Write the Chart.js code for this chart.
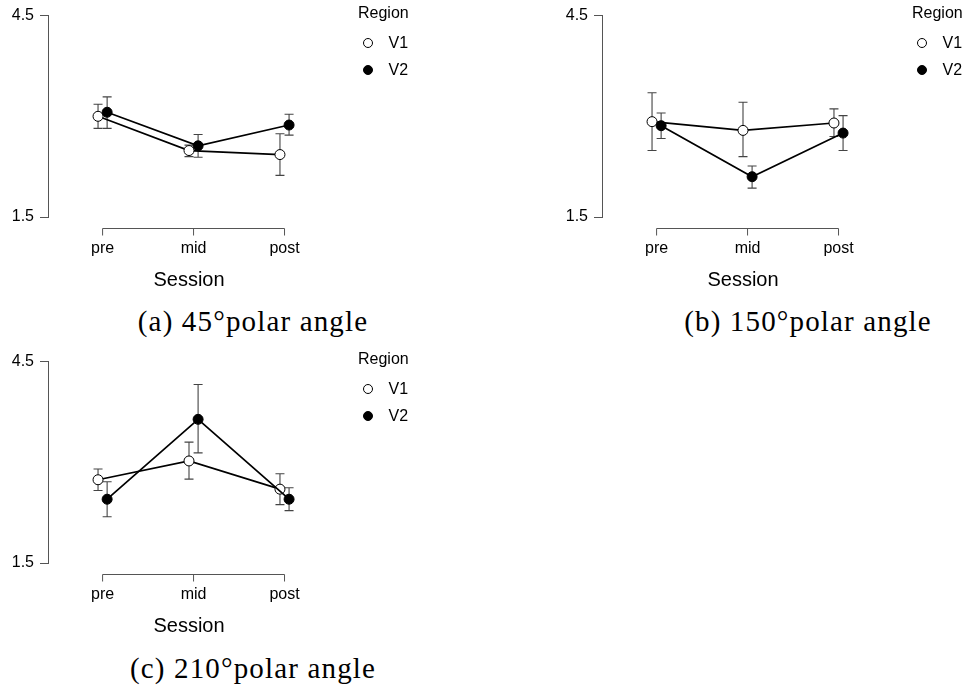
<!DOCTYPE html>
<html><head><meta charset="utf-8">
<script src="https://cdn.jsdelivr.net/npm/chart.js@4.4.1/dist/chart.umd.min.js"></script>
<style>
html,body{margin:0;padding:0;background:#fff;}
body{width:972px;height:694px;overflow:hidden;position:relative;}
.panel{position:absolute;width:430px;height:300px;}
.cap{position:absolute;font-family:"Liberation Serif","Times New Roman",serif;font-size:29px;line-height:28px;letter-spacing:1.15px;color:#000;white-space:nowrap;transform:translateX(-50%);}
</style></head><body>
<div class="panel" style="left:0px;top:0px"><canvas id="pa" width="430" height="300"></canvas></div>
<div class="panel" style="left:554px;top:0px"><canvas id="pb" width="430" height="300"></canvas></div>
<div class="panel" style="left:0px;top:346px"><canvas id="pc" width="430" height="300"></canvas></div>
<div class="cap" style="left:253px;top:307px">(a) 45°polar angle</div>
<div class="cap" style="left:808px;top:307px">(b) 150°polar angle</div>
<div class="cap" style="left:253px;top:654px">(c) 210°polar angle</div>
<script>
// ---- data ----
const sessions = ['pre', 'mid', 'post'];
const seriesNames = ['V1', 'V2'];
const yTickValues = [1.5, 4.5];
const legendTitle = 'Region';
const xTitle = 'Session';

// (a) 45° polar angle
const a_V1 = [3.00, 2.49, 2.43];
const a_V1_lo = [2.82, 2.40, 2.12];
const a_V1_hi = [3.18, 2.57, 2.74];
const a_V2 = [3.06, 2.56, 2.87];
const a_V2_lo = [2.82, 2.39, 2.72];
const a_V2_hi = [3.29, 2.73, 3.03];

// (b) 150° polar angle
const b_V1 = [2.92, 2.79, 2.90];
const b_V1_lo = [2.49, 2.40, 2.70];
const b_V1_hi = [3.35, 3.21, 3.11];
const b_V2 = [2.86, 2.10, 2.75];
const b_V2_lo = [2.67, 1.93, 2.49];
const b_V2_hi = [3.05, 2.26, 3.01];

// (c) 210° polar angle
const c_V1 = [2.74, 3.02, 2.60];
const c_V1_lo = [2.58, 2.75, 2.37];
const c_V1_hi = [2.90, 3.30, 2.83];
const c_V2 = [2.45, 3.64, 2.45];
const c_V2_lo = [2.19, 3.14, 2.28];
const c_V2_hi = [2.71, 4.16, 2.62];

// ---- styling / layout constants ----
Chart.defaults.font.family = '"Liberation Sans", Arial, sans-serif';
Chart.defaults.color = '#000';
const DODGE = 0.05;
const AXIS_COLOR = '#555';
const POINT_R = 5;

const errorBarPlugin = {
  id: 'errorBars',
  beforeDatasetsDraw(chart) {
    const {ctx, scales: {x, y}} = chart;
    ctx.save();
    ctx.strokeStyle = '#444';
    ctx.lineWidth = 1.1;
    chart.data.datasets.forEach(ds => {
      ds.data.forEach((p, i) => {
        const px = x.getPixelForValue(p.x);
        const top = y.getPixelForValue(ds.errHi[i]);
        const bot = y.getPixelForValue(ds.errLo[i]);
        const cw = 4.5;
        ctx.beginPath();
        ctx.moveTo(px, top); ctx.lineTo(px, bot);
        ctx.moveTo(px - cw, top); ctx.lineTo(px + cw, top);
        ctx.moveTo(px - cw, bot); ctx.lineTo(px + cw, bot);
        ctx.stroke();
      });
    });
    ctx.restore();
  }
};

const xAxisPlugin = {
  id: 'xAxisLine',
  afterDraw(chart) {
    const {ctx, chartArea, scales: {x}} = chart;
    const yLine = Math.round(chartArea.bottom + 11) + 0.5;
    const x0 = x.getPixelForValue(1), x1 = x.getPixelForValue(sessions.length);
    ctx.save();
    ctx.strokeStyle = AXIS_COLOR;
    ctx.lineWidth = 1;
    ctx.beginPath();
    ctx.moveTo(x0, yLine); ctx.lineTo(x1, yLine);
    sessions.forEach((s, i) => {
      const px = x.getPixelForValue(i + 1);
      ctx.moveTo(px, yLine); ctx.lineTo(px, yLine + 7);
    });
    ctx.stroke();
    ctx.restore();
  }
};

const legendPlugin = {
  id: 'sideLegend',
  afterDraw(chart) {
    const {ctx} = chart;
    ctx.save();
    ctx.font = '16px "Liberation Sans", Arial, sans-serif';
    ctx.fillStyle = '#000';
    ctx.textBaseline = 'middle';
    ctx.textAlign = 'left';
    ctx.fillText(legendTitle, 358, 14);
    const rowsY = [43, 70];
    chart.data.datasets.forEach((ds, i) => {
      const cy = rowsY[i];
      ctx.beginPath();
      ctx.arc(368, cy, 4.5, 0, Math.PI * 2);
      ctx.fillStyle = ds.pointBackgroundColor;
      ctx.fill();
      ctx.lineWidth = 1;
      ctx.strokeStyle = '#000';
      ctx.stroke();
      ctx.fillStyle = '#000';
      ctx.fillText(ds.label, 388.5, cy + 1);
    });
    ctx.restore();
  }
};

function makePanel(id, v1, v1lo, v1hi, v2, v2lo, v2hi) {
  const mk = (vals, off) => vals.map((v, i) => ({x: i + 1 + off, y: v}));
  new Chart(document.getElementById(id), {
    type: 'line',
    data: {
      datasets: [
        {label: seriesNames[0], data: mk(v1, -DODGE), errLo: v1lo, errHi: v1hi,
         borderColor: '#000', borderWidth: 1.7, pointRadius: POINT_R, pointBorderWidth: 1,
         pointBorderColor: '#000', pointBackgroundColor: '#fff', order: 1, tension: 0},
        {label: seriesNames[1], data: mk(v2, DODGE), errLo: v2lo, errHi: v2hi,
         borderColor: '#000', borderWidth: 1.7, pointRadius: POINT_R, pointBorderWidth: 1,
         pointBorderColor: '#000', pointBackgroundColor: '#000', order: 0, tension: 0}
      ]
    },
    options: {
      responsive: false, animation: false, events: [],
      layout: {padding: {top: 11, right: 100, bottom: 0, left: 0}},
      plugins: {legend: {display: false}, tooltip: {enabled: false}},
      scales: {
        x: {
          type: 'linear', min: 0.4, max: 3.5,
          afterBuildTicks: s => { s.ticks = sessions.map((_, i) => ({value: i + 1})); },
          afterFit: s => { s.height = 83; },
          grid: {display: false, drawTicks: false},
          border: {display: false},
          ticks: {font: {size: 16}, color: '#000', padding: 22, maxRotation: 0,
                  callback: v => sessions[Math.round(v) - 1] ?? ''},
          title: {display: true, text: xTitle, font: {size: 20}, color: '#000',
                  padding: {top: 0, bottom: 8}}
        },
        y: {
          type: 'linear', min: yTickValues[0], max: yTickValues[yTickValues.length - 1],
          afterBuildTicks: s => { s.ticks = yTickValues.map(v => ({value: v})); },
          afterFit: s => { s.width = 48; },
          grid: {display: true, drawOnChartArea: false, drawTicks: true, tickLength: 8,
                 color: AXIS_COLOR, lineWidth: 1},
          border: {display: true, color: AXIS_COLOR, width: 1},
          ticks: {font: {size: 16}, color: '#000', padding: 6,
                  callback: v => v.toFixed(1)}
        }
      }
    },
    plugins: [errorBarPlugin, xAxisPlugin, legendPlugin]
  });
}

makePanel('pa', a_V1, a_V1_lo, a_V1_hi, a_V2, a_V2_lo, a_V2_hi);
makePanel('pb', b_V1, b_V1_lo, b_V1_hi, b_V2, b_V2_lo, b_V2_hi);
makePanel('pc', c_V1, c_V1_lo, c_V1_hi, c_V2, c_V2_lo, c_V2_hi);
</script>
</body></html>
